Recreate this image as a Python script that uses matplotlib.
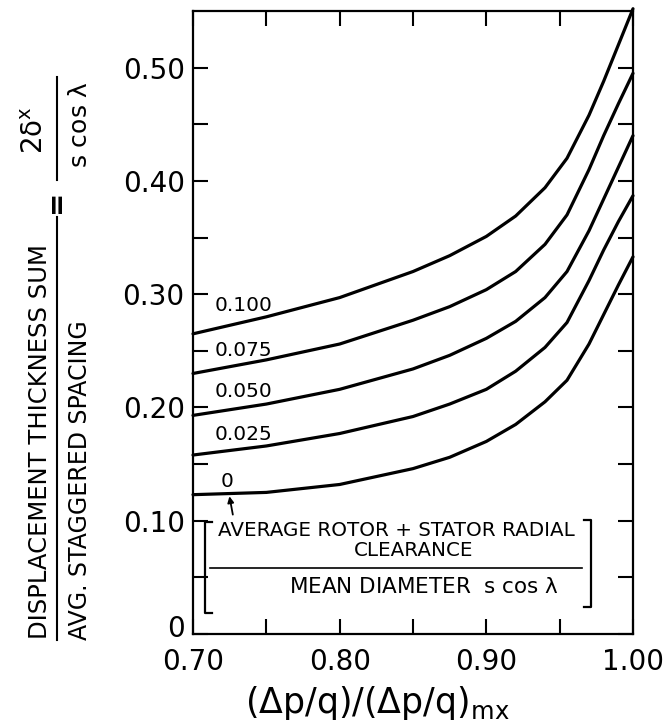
import numpy as np
import matplotlib
matplotlib.use("Agg")
import matplotlib.pyplot as plt
from matplotlib.lines import Line2D
from matplotlib.transforms import ScaledTranslation

plt.rcParams['mathtext.default'] = 'regular'

# data
pressure_ratio = [0.70, 0.75, 0.80, 0.85, 0.875, 0.90, 0.92, 0.94, 0.955, 0.97, 0.98, 0.99, 1.00]
clearance_labels = ["0", "0.025", "0.050", "0.075", "0.100"]
curve_0 = [0.123, 0.125, 0.132, 0.146, 0.156, 0.170, 0.185, 0.205, 0.224, 0.256, 0.282, 0.308, 0.333]
curve_025 = [0.158, 0.166, 0.177, 0.192, 0.203, 0.216, 0.232, 0.253, 0.275, 0.312, 0.339, 0.364, 0.387]
curve_050 = [0.193, 0.203, 0.216, 0.234, 0.246, 0.261, 0.276, 0.297, 0.320, 0.356, 0.384, 0.412, 0.440]
curve_075 = [0.230, 0.242, 0.256, 0.277, 0.289, 0.304, 0.320, 0.344, 0.370, 0.410, 0.440, 0.468, 0.495]
curve_100 = [0.265, 0.280, 0.297, 0.320, 0.334, 0.351, 0.369, 0.394, 0.420, 0.458, 0.488, 0.520, 0.552]
label_x = [0.7185, 0.7145, 0.7145, 0.7145, 0.7145]
label_y = [0.135, 0.176, 0.214, 0.250, 0.290]

x_ticks = [0.70, 0.80, 0.90, 1.00]
x_tick_labels = ["0.70", "0.80", "0.90", "1.00"]
y_ticks = [0, 0.10, 0.20, 0.30, 0.40, 0.50]
y_tick_labels = ["0", "0.10", "0.20", "0.30", "0.40", "0.50"]

W, H = 668, 727
fig = plt.figure(figsize=(W / 100, H / 100), dpi=100)
ax = fig.add_axes([193 / W, 1 - 634 / H, 440 / W, 623 / H])


def fx(px):
    return px / W


def fy(py):
    return 1 - py / H


curves = [curve_0, curve_025, curve_050, curve_075, curve_100]
for vals, lab, lx, ly in zip(curves, clearance_labels, label_x, label_y):
    ax.plot(pressure_ratio, vals, color='black', lw=2.3, solid_capstyle='round',
            solid_joinstyle='round', clip_on=False)
    ax.text(lx, ly, lab, fontsize=14.5, ha='left', va='center')

# arrow from bracket label up to the zero curve
ax.annotate("", xy=(0.7245, 0.124), xytext=(0.7275, 0.103),
            arrowprops=dict(arrowstyle='-|>', color='black', lw=1.3, mutation_scale=9))

ax.set_xlim(0.70, 1.00)
ax.set_ylim(0, 0.55)
ax.set_xticks(x_ticks)
ax.set_xticklabels(x_tick_labels)
ax.set_yticks(y_ticks)
ax.set_yticklabels(y_tick_labels)
ax.set_xticks(np.arange(0.75, 1.0, 0.1), minor=True)
ax.set_yticks(np.arange(0.05, 0.55, 0.1), minor=True)
ax.tick_params(which='both', direction='in', length=11, width=1.5,
               top=True, right=True, labelsize=20)
ax.tick_params(axis='x', pad=10)
ax.tick_params(axis='y', pad=6)
for s in ax.spines.values():
    s.set_linewidth(1.6)

# lift the "0" label a little so it clears "0.70"
zero_lab = ax.get_yticklabels()[0]
zero_lab.set_transform(zero_lab.get_transform() + ScaledTranslation(0, 6 / 72, fig.dpi_scale_trans))

fig.text(fx(377), fy(703), r'$(\Delta p/q)/(\Delta p/q)_{mx}$', fontsize=25,
         ha='center', va='center')

# bracketed clearance parameter inside plot
fig.text(fx(396), fy(530), "AVERAGE ROTOR + STATOR RADIAL", fontsize=14.3, ha='center', va='center')
fig.text(fx(414), fy(551), "CLEARANCE", fontsize=14.3, ha='center', va='center')
fig.text(fx(424), fy(587), r"MEAN DIAMETER  s cos $\lambda$", fontsize=15.5, ha='center', va='center')
fig.add_artist(Line2D([fx(210), fx(582)], [fy(568), fy(568)], color='black', lw=1.2))
fig.add_artist(Line2D([fx(212), fx(205), fx(205), fx(212)],
                      [fy(522), fy(522), fy(613), fy(613)], color='black', lw=1.6))
fig.add_artist(Line2D([fx(584), fx(591), fx(591), fx(584)],
                      [fy(520), fy(520), fy(607), fy(607)], color='black', lw=1.6))

# rotated y-axis label: fraction = fraction
fig.text(fx(40), fy(442), "DISPLACEMENT THICKNESS SUM", rotation=90, fontsize=17.5,
         ha='center', va='center')
fig.text(fx(80), fy(480), "AVG. STAGGERED SPACING", rotation=90, fontsize=17,
         ha='center', va='center')
fig.add_artist(Line2D([fx(57), fx(57)], [fy(217), fy(640)], color='black', lw=1.5))
fig.text(fx(56), fy(201), "=", rotation=90, fontsize=20, fontweight='bold',
         ha='center', va='center')
fig.add_artist(Line2D([fx(57), fx(57)], [fy(77), fy(180)], color='black', lw=1.5))
fig.text(fx(35), fy(130), r"$2\delta^{x}$", rotation=90, fontsize=20, ha='center', va='center')
fig.text(fx(80), fy(125), r"s cos $\lambda$", rotation=90, fontsize=18, ha='center', va='center')

fig.savefig("out.png", dpi=100)
